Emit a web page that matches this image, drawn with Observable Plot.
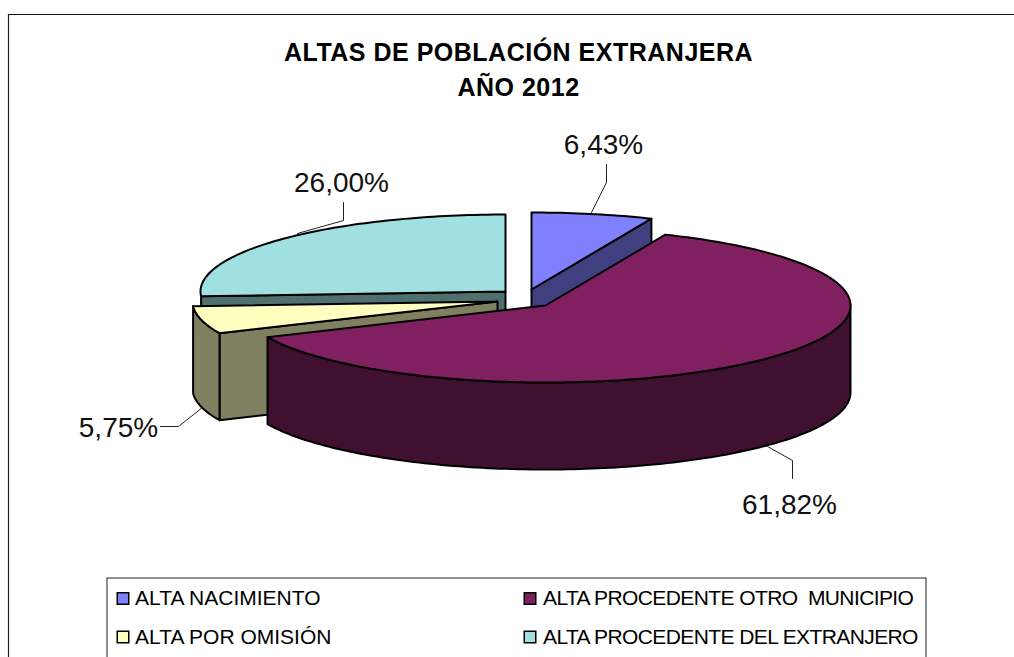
<!DOCTYPE html>
<html><head><meta charset="utf-8">
<style>html,body{margin:0;padding:0;background:#fff;overflow:hidden}svg{display:block}</style>
<script src="https://cdn.jsdelivr.net/npm/d3@7"></script>
<script src="https://cdn.jsdelivr.net/npm/@observablehq/plot@0.6"></script>
</head><body>
<script>
const categories = ["ALTA NACIMIENTO","ALTA PROCEDENTE OTRO  MUNICIPIO","ALTA POR OMISIÓN","ALTA PROCEDENTE DEL EXTRANJERO"];
const values = [6.43,61.82,5.75,26.00];
const valueLabels = ["6,43%","61,82%","5,75%","26,00%"];
const topColors = ["#8080FF","#802060","#FFFFC0","#A0E0E0"];
const sideColors = ["#404080","#401030","#808060","#507070"];
const titleLines = ["ALTAS DE POBLACIÓN EXTRANJERA","AÑO 2012"];

// pie layout (exploded, tilted pie)
const rx = 305, ry = 77, depth = 87;
const centers = [[531,289],[545,305],[497,301],[505,291]];
const arcs = d3.pie().sort(null).value(d=>d).startAngle(0).endAngle(2*Math.PI)(values);
const rim = (c,a,dz=0)=>({x:c[0]+rx*Math.sin(a), y:c[1]-ry*Math.cos(a)+dz});
const arcPts = (c,a0,a1,dz=0)=>{
  const n=Math.max(2,Math.ceil(Math.abs(a1-a0)/0.02)), p=[];
  for(let i=0;i<=n;i++) p.push(rim(c,a0+(a1-a0)*i/n,dz));
  return p;
};
const faces=[];
const addFace=(pts,fill)=>{const id=faces.length?faces[faces.length-1].id+1:0;
  [...pts,pts[0]].forEach(p=>faces.push({id,x:p.x,y:p.y,fill}));};
const apex=(c,dz=0)=>({x:c[0],y:c[1]+dz});
const wall=(i,a)=>addFace([apex(centers[i]),rim(centers[i],a),rim(centers[i],a,depth),apex(centers[i],depth)],sideColors[i]);
const outer=(i,a0,a1)=>addFace([...arcPts(centers[i],a0,a1),...arcPts(centers[i],a1,a0,depth)],sideColors[i]);
const top_=(i)=>addFace([apex(centers[i]),...arcPts(centers[i],arcs[i].startAngle,arcs[i].endAngle)],topColors[i]);
// back to front
wall(3,arcs[3].startAngle); top_(3);
wall(0,arcs[0].endAngle); top_(0);
wall(2,arcs[2].startAngle); outer(2,arcs[2].startAngle,arcs[2].endAngle); top_(2);
outer(1,Math.PI/2,arcs[1].endAngle); top_(1);

// leader lines: slice order, from rim to label
const leaderPaths=[
 [[591,212],[606,182],[606,164]],
 [[767,446],[792,460],[792,478]],
 [[202,407],[178,426],[160,426]],
 [[297,233],[343,220],[343,202]]
];
const leaders=leaderPaths.flatMap((p,i)=>p.map(([x,y])=>({i,x,y})));
const labelPos=[[603,153],[789,513],[118,436],[341,191]];

const legendCols=[122.5,529.5], legendRows=[598,636.5];
const legend=categories.map((name,i)=>({name,color:topColors[i],col:i%2,x:legendCols[i%2],y:legendRows[i>>1]}));

const spaced=(px)=>(index,scales,values,dims,ctx,next)=>{
  const g=next(index,scales,values,dims,ctx);
  g.style.letterSpacing=px+"px";
  return g;
};
const ff="Liberation Sans, Arial, sans-serif";
const chart=Plot.plot({
  width:1014,height:657,margin:0,
  x:{domain:[0,1014],range:[0,1014],axis:null},
  y:{domain:[0,657],range:[0,657],axis:null},
  style:{background:"#fff",fontFamily:ff},
  marks:[
    Plot.ruleX([8],{y1:14,y2:657,stroke:"#222",strokeWidth:1.2}),
    Plot.ruleY([14],{x1:8,x2:1014,stroke:"#111",strokeWidth:1.2}),
    Plot.line(faces,{x:"x",y:"y",z:"id",fill:"fill",stroke:"#000",strokeWidth:2,strokeLinejoin:"round",curve:"linear"}),
    Plot.line(leaders,{x:"x",y:"y",z:"i",stroke:"#222",strokeWidth:1,fill:"none"}),
    Plot.text(valueLabels,{x:(d,i)=>labelPos[i][0],y:(d,i)=>labelPos[i][1],text:d=>d,fontSize:28,fill:"#111",lineAnchor:"bottom",fontFamily:ff}),
    Plot.text(titleLines,{x:()=>518,y:(d,i)=>[52,87][i],text:d=>d,fontSize:25,fontWeight:"bold",fill:"#000",fontFamily:ff,render:spaced(0.5)}),
    Plot.rect([0],{x1:()=>107,x2:()=>926,y1:()=>578,y2:()=>670,fill:"#fff",stroke:"#222",strokeWidth:1}),
    Plot.dot(legend,{x:"x",y:"y",symbol:"square",r:6.5,fill:"color",stroke:"#000",strokeWidth:1.5}),
    Plot.text(legend.filter(d=>d.col===0),{x:d=>d.x+12,y:"y",text:"name",textAnchor:"start",fontSize:21,fill:"#000",fontFamily:ff}),
    Plot.text(legend.filter(d=>d.col===1),{x:d=>d.x+13,y:"y",text:"name",textAnchor:"start",fontSize:21,fill:"#000",fontFamily:ff,render:spaced(-0.6)})
  ]
});
document.body.appendChild(chart);
</script>
</body></html>
